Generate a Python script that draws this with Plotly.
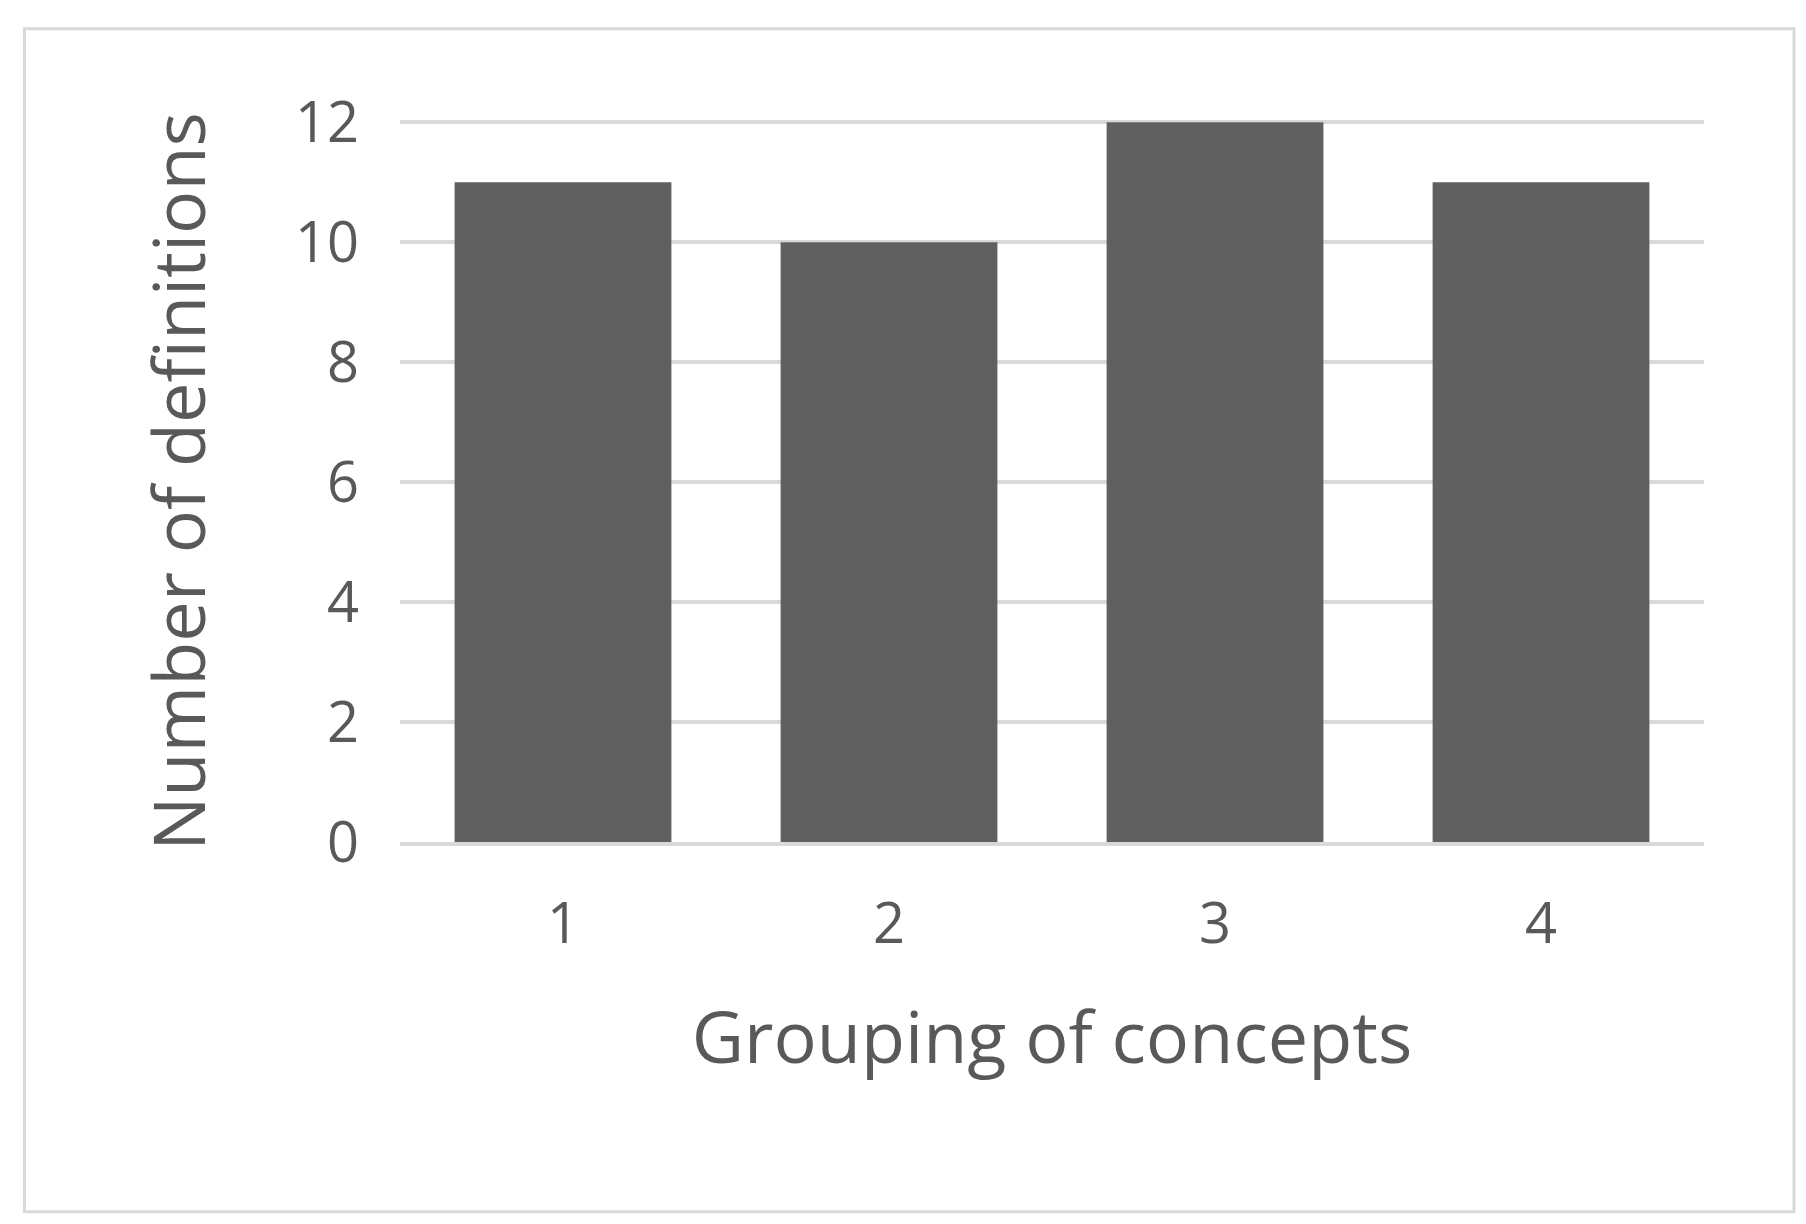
import plotly.graph_objects as go

categories = ["1", "2", "3", "4"]
values = [11, 10, 12, 11]
y_ticks = [0, 2, 4, 6, 8, 10, 12]

fig = go.Figure(go.Bar(x=categories, y=values, marker=dict(color="#606060", line=dict(width=0))))
fig.update_layout(
    width=1806, height=1224, plot_bgcolor="white", paper_bgcolor="white",
    margin=dict(l=392, r=110, t=113, b=390),
    bargap=0.335, showlegend=False,
    font=dict(family="Open Sans, Liberation Sans", color="#595959", size=56),
    shapes=[dict(type="rect", xref="paper", yref="paper", x0=-0.288, x1=1.069, y0=-0.513, y1=1.128,
                 line=dict(color="#d9d9d9", width=3))],
)
fig.update_xaxes(type="category", showgrid=False, showline=True, linecolor="#d9d9d9", linewidth=4,
                 ticks="", ticklabelstandoff=30,
                 title=dict(text="Grouping of concepts", font=dict(size=72), standoff=55))
fig.update_yaxes(range=[0, 12.02], tickvals=y_ticks, gridcolor="#d9d9d9", gridwidth=4, zeroline=False,
                 ticks="", ticklabelstandoff=40,
                 title=dict(text="Number of definitions", font=dict(size=72), standoff=65))
fig.write_html("out.html")
